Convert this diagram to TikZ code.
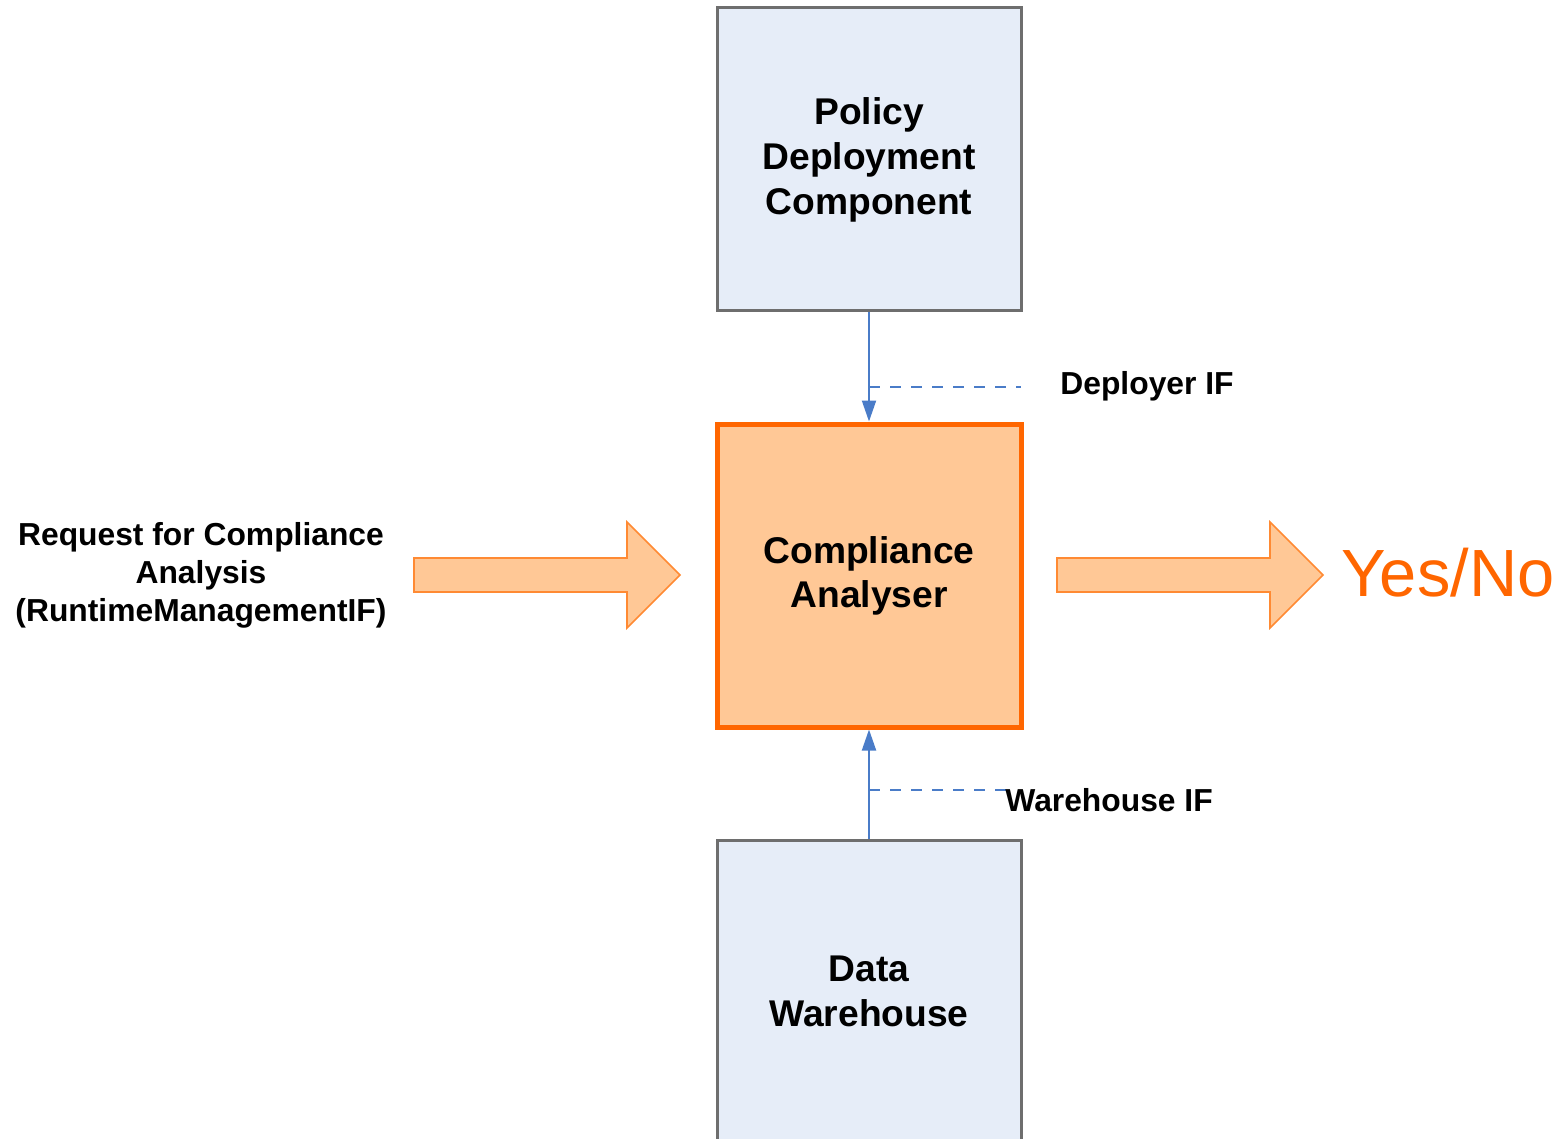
\documentclass[tikz,border=0pt]{standalone}
\usepackage{fontspec}
\setmainfont{Liberation Sans}
\usetikzlibrary{arrows.meta}
\definecolor{boxblue}{HTML}{E6EDF8}
\definecolor{boxgray}{HTML}{6E6E6E}
\definecolor{peach}{HTML}{FFC896}
\definecolor{orng}{HTML}{FF6600}
\definecolor{arrorng}{HTML}{FF8A33}
\definecolor{linkblue}{HTML}{4A7CC8}
\tikzset{
  compbox/.style={draw=boxgray, line width=1.5pt, fill=boxblue, minimum width=152pt, minimum height=151.5pt, inner sep=0pt, align=center, font=\fontsize{18.6}{22.5}\selectfont\bfseries},
  mainbox/.style={draw=orng, line width=2.5pt, fill=peach, minimum width=152pt, minimum height=151.5pt, inner sep=0pt, align=center, font=\fontsize{18.6}{22}\selectfont\bfseries},
  link/.style={draw=linkblue, line width=1pt, -{Triangle[length=10.5pt,width=7pt]}},
  iflink/.style={draw=linkblue, line width=0.8pt, dash pattern=on 5.5pt off 5pt},
  iflabel/.style={anchor=west, inner sep=0pt, font=\fontsize{15.9}{18}\selectfont\bfseries},
  blockarrow/.style={draw=arrorng, line width=0.8pt, fill=peach, line join=miter}
}
\begin{document}
\begin{tikzpicture}[x=0.5pt,y=-0.5pt]
\useasboundingbox (0,0) rectangle (1558,1139);
\clip (0,0) rectangle (1558,1139);
\node[compbox] (pdc) at (869,159.5) {Policy\\Deployment\\Component};
\node[mainbox] (ca) at (869,575.5) {Compliance\\Analyser};
\node[compbox] (dw) at (869,991.5) {Data\\Warehouse};
\draw[link] (pdc) -- (ca);
\draw[link] (dw) -- (ca);
\coordinate (d1) at (869,387);
\coordinate (d2) at (1021,387);
\draw[iflink] (d1) -- (d2);
\node[iflabel] (dep) at (1060,386) {Deployer IF};
\coordinate (w1) at (869,790);
\coordinate (w2) at (1012,790);
\draw[iflink] (w1) -- (w2);
\node[iflabel] (wh) at (1005,800) {Warehouse IF};
% left block arrow
\draw[blockarrow] (414,558) -- (627,558) -- (627,522) -- (680,575) -- (627,628) -- (627,592) -- (414,592) -- cycle;
% right block arrow
\draw[blockarrow] (1057,558) -- (1270,558) -- (1270,522) -- (1323,575) -- (1270,628) -- (1270,592) -- (1057,592) -- cycle;
\node[align=center, font=\fontsize{15.9}{19}\selectfont\bfseries] (req) at (201,575) {Request for Compliance\\Analysis\\(RuntimeManagementIF)};
\node[anchor=west, inner sep=0pt, text=orng, font=\fontsize{33.4}{36}\selectfont] (yn) at (1341,573) {Yes/No};
\end{tikzpicture}
\end{document}
